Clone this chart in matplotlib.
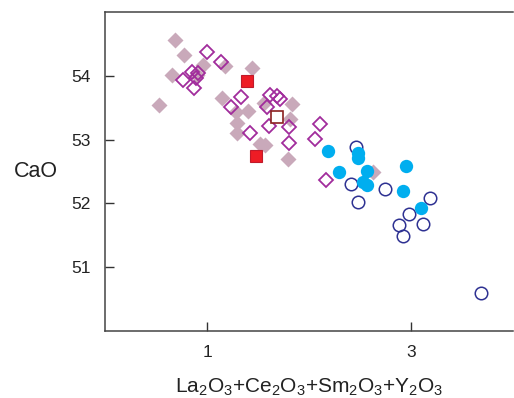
import matplotlib.pyplot as plt

plt.rcParams['font.family'] = ['Liberation Sans', 'DejaVu Sans']
plt.rcParams['mathtext.fontset'] = 'custom'
plt.rcParams['mathtext.rm'] = 'Liberation Sans'
plt.rcParams['mathtext.it'] = 'Liberation Sans'
plt.rcParams['mathtext.default'] = 'regular'

# filled grey-pink diamonds
dia_x = [0.53, 0.69, 0.77, 0.66, 0.90, 0.96, 1.18, 1.44, 1.15, 1.28,
         1.40, 1.29, 1.29, 1.52, 1.57, 1.56, 1.83, 1.81, 1.79, 2.63]
dia_y = [53.55, 54.56, 54.33, 54.02, 54.02, 54.17, 54.15, 54.13, 53.65, 53.43,
         53.45, 53.26, 53.10, 52.93, 52.91, 53.57, 53.56, 53.33, 52.69, 52.49]

# open magenta diamonds
odia_x = [1.00, 1.14, 0.85, 0.76, 0.89, 0.91, 0.87, 1.33, 1.24, 1.62,
          1.69, 1.72, 1.59, 1.42, 1.61, 1.80, 1.80, 2.11, 2.06, 2.17]
odia_y = [54.38, 54.22, 54.06, 53.94, 53.97, 54.04, 53.81, 53.67, 53.51, 53.70,
          53.68, 53.64, 53.51, 53.10, 53.21, 53.19, 52.94, 53.25, 53.01, 52.37]

# red filled squares / open square
sq_x = [1.39, 1.48]
sq_y = [53.92, 52.75]
osq_x = [1.69]
osq_y = [53.36]

# blue filled circles
bc_x = [2.19, 2.48, 2.48, 2.29, 2.57, 2.53, 2.57, 2.95, 2.92, 3.10]
bc_y = [52.82, 52.79, 52.71, 52.49, 52.51, 52.33, 52.29, 52.58, 52.19, 51.93]

# open navy circles
oc_x = [2.46, 2.41, 2.48, 2.75, 3.19, 2.98, 2.88, 3.12, 2.92, 3.69]
oc_y = [52.89, 52.31, 52.02, 52.22, 52.08, 51.84, 51.66, 51.68, 51.49, 50.60]

fig = plt.figure(figsize=(5.14, 3.98), dpi=100)
ax = fig.add_axes([0.2043, 0.1683, 0.7937, 0.8015])

ax.plot(dia_x, dia_y, 'D', ms=8.3, color='#c9a9ba', mec='none', zorder=2)
ax.plot(odia_x, odia_y, 'D', ms=7.3, mfc='none', mec='#a12c9c', mew=1.3, zorder=3)
ax.plot(oc_x, oc_y, 'o', ms=9, mfc='none', mec='#2e3192', mew=1.1, zorder=3)
ax.plot(bc_x, bc_y, 'o', ms=9.6, color='#00aeef', mec='none', zorder=4)
ax.plot(sq_x, sq_y, 's', ms=8.6, mfc='#ee1c25', mec='#c01a2a', mew=0.8, zorder=5)
ax.plot(osq_x, osq_y, 's', ms=8.6, mfc='white', mec='#8b2020', mew=1.2, zorder=5)

ax.set_xlim(0, 4)
ax.set_ylim(50, 55)
ax.set_xticks([1, 3])
ax.set_yticks([51, 52, 53, 54])
ax.tick_params(direction='in', length=6.5, width=1, color='#333333',
               labelsize=12.5, labelcolor='#222222', pad=10)

for s in ['left', 'bottom', 'top']:
    ax.spines[s].set_color('#444444')
    ax.spines[s].set_linewidth(1.1)
ax.spines['right'].set_visible(False)

ax.set_xlabel('La$_2$O$_3$+Ce$_2$O$_3$+Sm$_2$O$_3$+Y$_2$O$_3$', fontsize=15,
              color='#222222', labelpad=12)
ax.set_ylabel('CaO', fontsize=15.5, rotation=0, color='#222222', va='center')
ax.yaxis.set_label_coords(-0.17, 0.5)

fig.savefig('out.png', dpi=100)
